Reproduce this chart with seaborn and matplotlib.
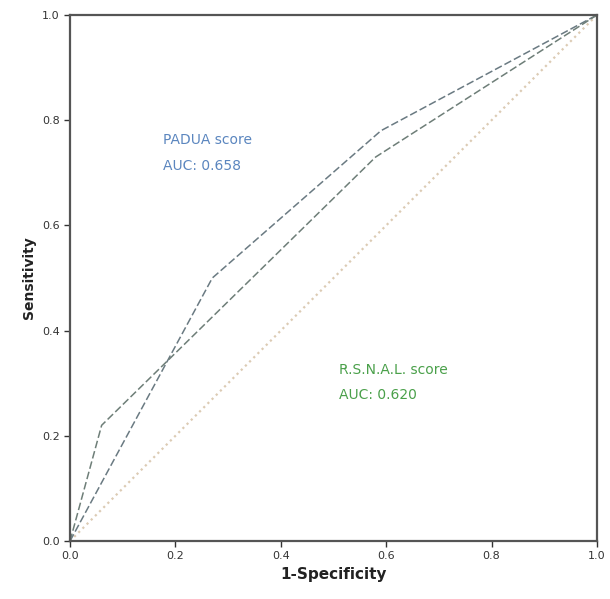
import numpy as np
import pandas as pd
import matplotlib
matplotlib.use("Agg")
import matplotlib.pyplot as plt
import seaborn as sns

# ROC points
padua_fpr = [0.0, 0.27, 0.59, 1.0]
padua_tpr = [0.0, 0.50, 0.78, 1.0]
rsnal_fpr = [0.0, 0.06, 0.58, 1.0]
rsnal_tpr = [0.0, 0.22, 0.73, 1.0]
ref_line = [0.0, 1.0]
ticks = [0.0, 0.2, 0.4, 0.6, 0.8, 1.0]
tick_labels = ["0.0", "0.2", "0.4", "0.6", "0.8", "1.0"]

df = pd.concat([
    pd.DataFrame({"fpr": padua_fpr, "tpr": padua_tpr, "score": "PADUA"}),
    pd.DataFrame({"fpr": rsnal_fpr, "tpr": rsnal_tpr, "score": "RSNAL"}),
])

sns.set_style("white")
fig = plt.figure(figsize=(6.10, 5.99), dpi=100)
ax = fig.add_axes([0.1148, 0.0968, 0.8639, 0.8782])

# reference diagonal
sns.lineplot(x=ref_line, y=ref_line, ax=ax, color="#dccbb4", linestyle=":", linewidth=1.6)

sns.lineplot(data=df, x="fpr", y="tpr", hue="score", ax=ax, sort=False,
             palette={"PADUA": "#6a7a82", "RSNAL": "#6e7e78"},
             linewidth=1.1, legend=False)
for line in ax.lines[1:]:
    line.set_dashes([5, 2])

ax.text(0.176, 0.762, "PADUA score", color="#5b86bf", fontsize=10, va="center")
ax.text(0.176, 0.712, "AUC: 0.658", color="#5b86bf", fontsize=10, va="center")
ax.text(0.51, 0.325, "R.S.N.A.L. score", color="#4aa04a", fontsize=10, va="center")
ax.text(0.51, 0.277, "AUC: 0.620", color="#4aa04a", fontsize=10, va="center")

ax.set_xlim(0, 1)
ax.set_ylim(0, 1)
ax.set_xticks(ticks)
ax.set_xticklabels(tick_labels)
ax.set_yticks(ticks)
ax.set_yticklabels(tick_labels)
ax.tick_params(direction="out", length=4, width=1, labelsize=8, colors="#333333",
               bottom=True, left=True)
for s in ax.spines.values():
    s.set_color("#555555")
    s.set_linewidth(1.6)

ax.set_xlabel("1-Specificity", fontsize=11, fontweight="bold", color="#222222")
ax.set_ylabel("Sensitivity", fontsize=10, fontweight="bold", color="#222222")

fig.savefig("out.png", dpi=100)
